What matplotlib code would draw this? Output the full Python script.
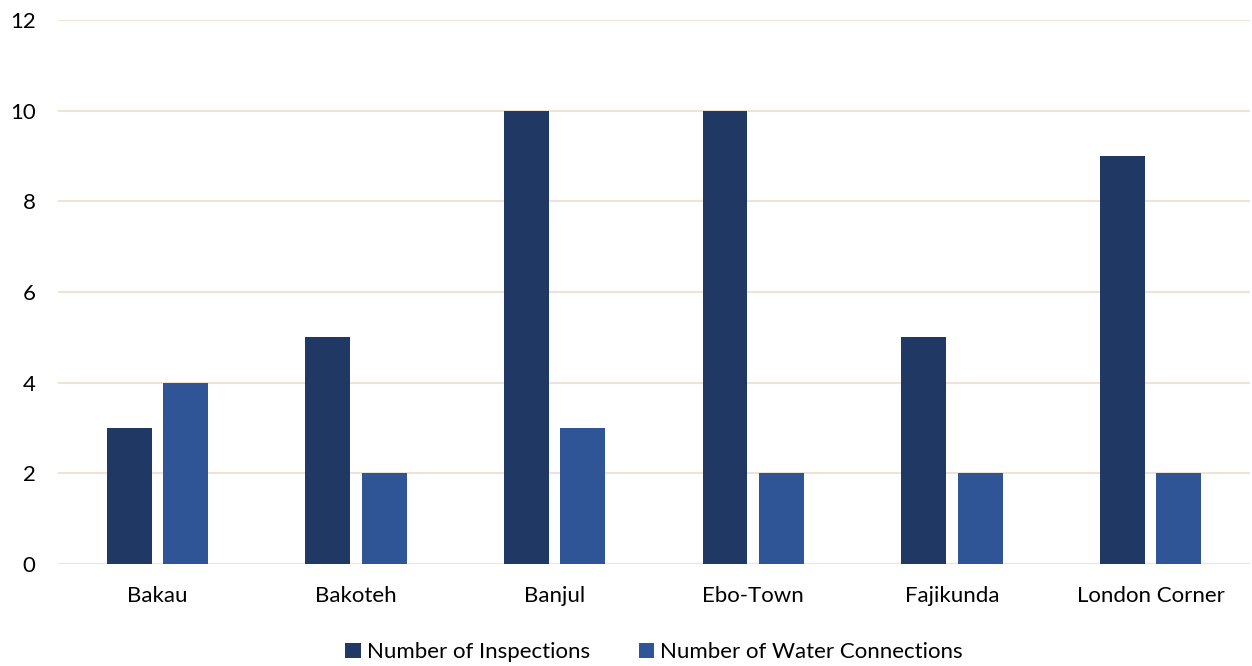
import matplotlib.pyplot as plt
import numpy as np

plt.rcParams['font.family'] = ['Lato', 'DejaVu Sans']

towns = ['Bakau', 'Bakoteh', 'Banjul', 'Ebo-Town', 'Fajikunda', 'London Corner']
inspections = [3, 5, 10, 10, 5, 9]
connections = [4, 2, 3, 2, 2, 2]

x = np.arange(len(towns))
w = 0.226

fig = plt.figure(figsize=(12.52, 6.66), dpi=100)
ax = fig.add_axes([0.0463, 0.1532, 0.952, 0.8168])

ax.bar(x - 0.142, inspections, w, color='#203864', label='Number of Inspections', zorder=3)
ax.bar(x + 0.142, connections, w, color='#2F5597', label='Number of Water Connections', zorder=3)

ax.set_xlim(-0.5, len(towns) - 0.5)
ax.set_ylim(0, 12)
ax.set_yticks(range(0, 13, 2))
ax.set_xticks(x)
ax.set_xticklabels(towns)
ax.tick_params(length=0, labelsize=16, colors='#000000')
ax.tick_params(axis='y', pad=16)
ax.tick_params(axis='x', pad=16)
ax.grid(axis='y', color='#EDE3D6', linewidth=1.5, zorder=0)
for s in ax.spines.values():
    s.set_visible(False)

ax.legend(loc='center', bbox_to_anchor=(0.5, -0.162), ncol=2, frameon=False,
          fontsize=16, handlelength=0.7, handleheight=0.7, columnspacing=2.2,
          handletextpad=0.25)

fig.savefig('out.png', dpi=100)
